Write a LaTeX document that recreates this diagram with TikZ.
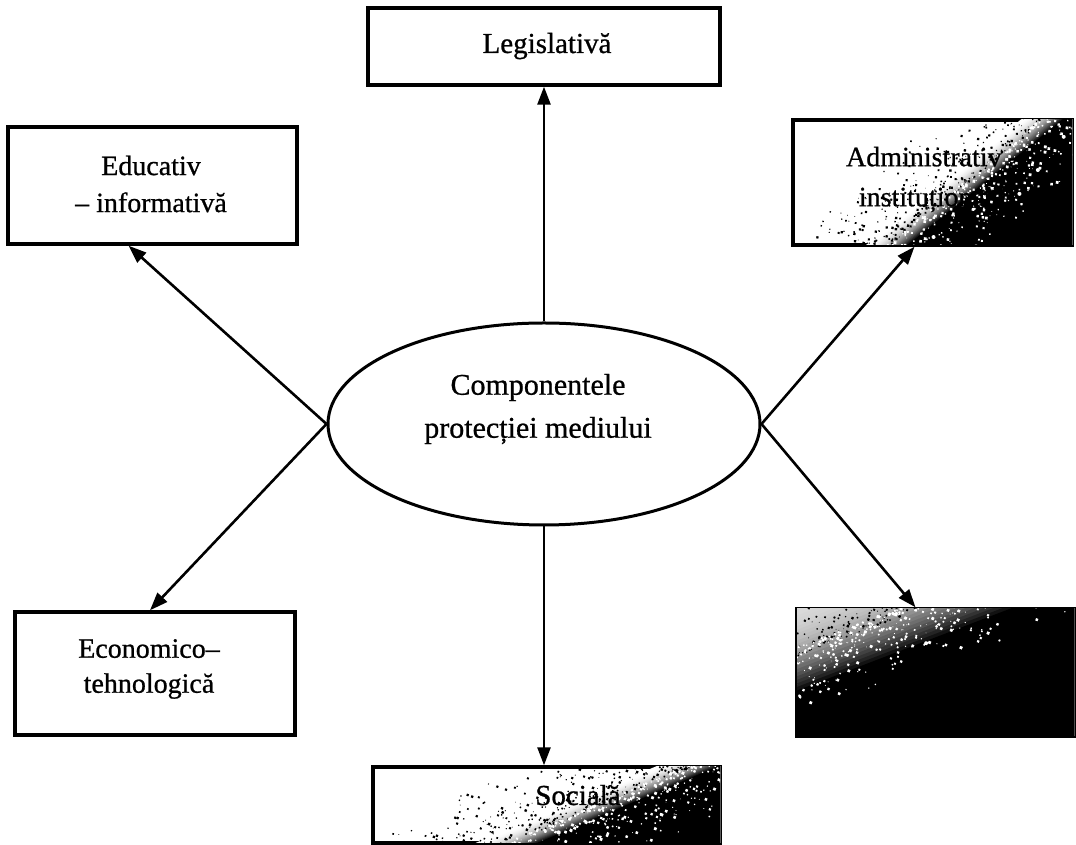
\documentclass[tikz,border=0pt]{standalone}
\usepackage{fontspec}
\setmainfont{Liberation Serif}[FakeBold=0.8]
\usetikzlibrary{arrows.meta,shapes.geometric,calc}

% Toner smear inside box #1: its dark edge passes through the point (#2,#3)
% from the box centre, local x turned by #4 degrees points into the dark side;
% the smear starts at #5 along that axis with #6 percent black, is fully black
% from 0 on, and carries grain on both sides of the edge.
\newcommand\tonerpatch[6]{%
  \begin{scope}
    \clip ([shift={(1.7,1.7)}]#1.south west) rectangle ([shift={(-1.7,-1.7)}]#1.north east);
    \begin{scope}[shift={(#1.center)}, shift={(#2,#3)}, rotate=#4]
      \foreach \k in {0,...,24}{%
        \pgfmathsetmacro\dd{#5*(1-\k/24)}%
        \pgfmathtruncatemacro\cc{#6+(100-#6)*(\k/24)^2}%
        \fill[black!\cc] (\dd,-320) -- (420,-320) -- (420,320) -- (\dd,320) -- cycle;}
      % dark specks scattered over the light side
      \foreach \i in {1,...,700}{%
        \pgfmathsetmacro\uu{rand*230}%
        \pgfmathsetmacro\vv{#5*0.4-(55-#5*0.6)*rnd*rnd}%
        \pgfmathsetmacro\rr{0.4+rnd*1.3}%
        \fill[black] (\vv,\uu) circle (\rr);}
      % light specks left in the dark side
      \foreach \i in {1,...,800}{%
        \pgfmathsetmacro\uu{rand*230}%
        \pgfmathsetmacro\vv{#5*0.5+70*rnd*rnd}%
        \pgfmathsetmacro\rr{0.4+rnd*1.6}%
        \fill[white] (\vv,\uu) circle (\rr);}
    \end{scope}
  \end{scope}}

\begin{document}
\begin{tikzpicture}[x=1pt,y=1pt,
  box/.style={draw=black, line width=3.4pt, inner sep=0pt},
  lbl/.style={inner sep=0pt, align=center},
  link/.style={line width=2.6pt, -{Triangle[length=18pt,width=13pt]}}]
\pgfmathsetseed{4711}
\useasboundingbox (0,0) rectangle (1076,845);

% central ellipse
\node[ellipse, draw=black, line width=3pt, inner sep=0pt,
      minimum width=432, minimum height=202] (ell) at (544,421) {};

% component boxes
\node[box, minimum width=352, minimum height=77] (leg) at (544,798.5) {};
\node[box, minimum width=289, minimum height=117] (edu) at (152.5,659.5) {};
\node[box, minimum width=279, minimum height=125] (adm) at (932.5,662.5) {};
\node[box, minimum width=280, minimum height=123] (eco) at (155,171.5) {};
\node[box, minimum width=277, minimum height=127] (oth) at (935.5,172.5) {};
\node[box, minimum width=347, minimum height=76] (soc) at (546.5,40) {};

% toner smears
\tonerpatch{adm}{52}{0}{-51}{-26}{0}
\tonerpatch{oth}{-35.5}{21.5}{-69}{-80}{15}
\tonerpatch{soc}{80}{0}{-67}{-24}{0}

% labels
\node[lbl, font=\fontsize{30}{43}\selectfont] (ellt) at (538,436)
  {Componentele\\protecției mediului};
\node[lbl, anchor=base, font=\fontsize{29}{37}\selectfont] (legt) at (547,792) {Legislativă};
\node[lbl, font=\fontsize{28}{37}\selectfont] (edut) at (151,661) {Educativ\\– informativă};
\node[lbl, font=\fontsize{28}{40}\selectfont] (admt) at (932,665.5) {Administrativ -\\instituțională};
\node[lbl, font=\fontsize{28}{35}\selectfont] (ecot) at (149,176) {Economico–\\tehnologică};
\node[lbl, anchor=base, font=\fontsize{29}{37}\selectfont] (soct) at (578,40) {Socială};

% connectors
\draw[link] (ell.north) -- (ell.north |- leg.south);
\draw[link] (ell.south) -- (ell.south |- soc.north);
\draw[link] (ell.west) -- ([xshift=-24pt]edu.south);
\draw[link] (ell.west) -- ([xshift=-5pt]eco.north);
\draw[link] (ell.east) -- ([xshift=-18pt]adm.south);
\draw[link] (ell.east) -- ([xshift=-20pt]oth.north);
\end{tikzpicture}
\end{document}
